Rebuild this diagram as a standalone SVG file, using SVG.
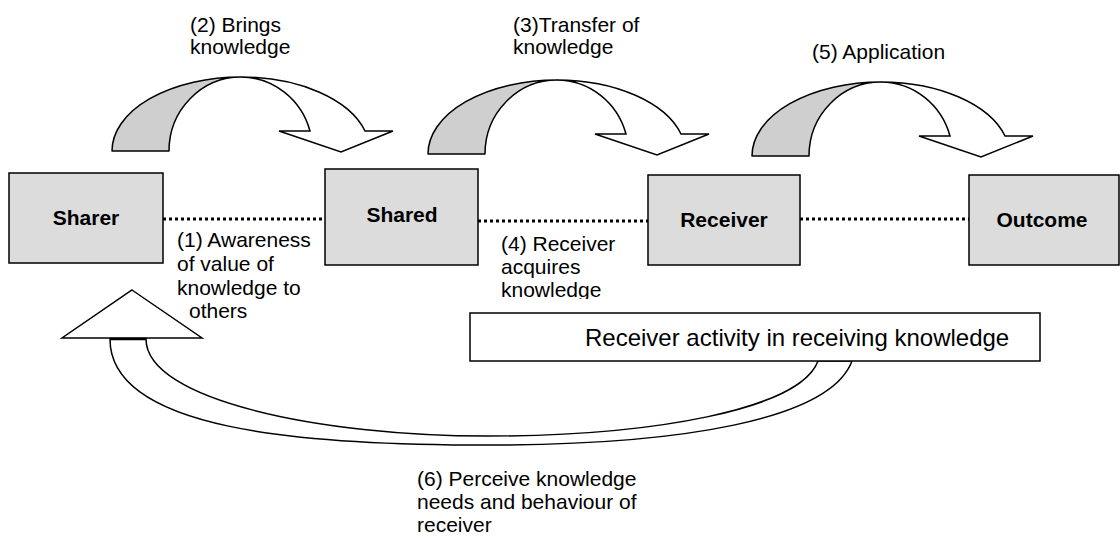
<svg xmlns="http://www.w3.org/2000/svg" xmlns:xlink="http://www.w3.org/1999/xlink" width="1120" height="539" viewBox="0 0 1120 539">
  <style>
    .box { fill: #dcdcdc; stroke: #000; stroke-width: 1.5; }
    .wbox { fill: #fff; stroke: #000; stroke-width: 1.5; }
    .bold { font-family: "Liberation Sans", Arial, sans-serif; font-size: 21px; font-weight: bold; fill: #000; }
    .lbl { font-family: "Liberation Sans", Arial, sans-serif; font-size: 21px; fill: #000; }
    .big { font-family: "Liberation Sans", Arial, sans-serif; font-size: 24px; fill: #000; }
    .dots { stroke: #000; stroke-width: 3; stroke-dasharray: 3 3; fill: none; }
    .shade { fill: #cfcfcf; stroke: #000; stroke-width: 1.5; stroke-linejoin: round; }
    .white { fill: #fff; stroke: #000; stroke-width: 1.5; stroke-linejoin: miter; }
  </style>
  <defs>
    <g id="curvedArrow">
      <path class="shade" d="M112,151 A129,74 0 0 1 241,77 A72,74 0 0 0 169,151 Z"/>
      <path class="white" d="M241,77 A129,74 0 0 1 365,131 L393,131 L341,152 L279,131 L310,131 A72,74 0 0 0 241,77 Z"/>
    </g>
    <clipPath id="clip4">
      <rect x="480" y="225" width="160" height="74"/>
    </clipPath>
  </defs>
  <rect width="1120" height="539" fill="#fff"/>

  <g id="connectors">
    <line class="dots" x1="163" y1="219" x2="325" y2="219"/>
    <line class="dots" x1="478" y1="221" x2="648" y2="221"/>
    <line class="dots" x1="800" y1="219" x2="969" y2="219"/>
    <use xlink:href="#curvedArrow" href="#curvedArrow"/>
    <use xlink:href="#curvedArrow" href="#curvedArrow" transform="translate(316,3)"/>
    <use xlink:href="#curvedArrow" href="#curvedArrow" transform="translate(640,5)"/>
    <g id="feedbackArrow">
      <path class="white" d="M110,339 C110,430 300,445 488,445 C680,445 830,420 852,361 L818,361 C800,410 650,436 488,436 C320,436 146,400 146,339 Z"/>
      <polygon class="white" points="132,290 202,338 62,338"/>
      <line x1="110" y1="339" x2="146" y2="339" stroke="#000" stroke-width="2.5"/>
    </g>
  </g>

  <g id="sharer">
    <rect class="box" x="9" y="173" width="154" height="90"/>
    <text class="bold" x="86" y="225" text-anchor="middle">Sharer</text>
  </g>
  <g id="shared">
    <rect class="box" x="325" y="169" width="153" height="96"/>
    <text class="bold" x="402" y="222" text-anchor="middle">Shared</text>
  </g>
  <g id="receiver">
    <rect class="box" x="648" y="175" width="152" height="90"/>
    <text class="bold" x="724" y="227" text-anchor="middle">Receiver</text>
  </g>
  <g id="outcome">
    <rect class="box" x="969" y="175" width="150" height="90"/>
    <text class="bold" x="1042" y="227" text-anchor="middle">Outcome</text>
  </g>
  <g id="activity">
    <rect class="wbox" x="470" y="313" width="570" height="48"/>
    <text class="big" x="585" y="346">Receiver activity in receiving knowledge</text>
  </g>

  <g id="labels">
    <text class="lbl" x="190" y="32">(2) Brings</text>
    <text class="lbl" x="190" y="54">knowledge</text>
    <text class="lbl" x="513" y="32">(3)Transfer of</text>
    <text class="lbl" x="513" y="54">knowledge</text>
    <text class="lbl" x="812" y="59">(5) Application</text>
    <text class="lbl" x="177" y="247">(1) Awareness</text>
    <text class="lbl" x="177" y="271">of value of</text>
    <text class="lbl" x="177" y="295">knowledge to</text>
    <text class="lbl" x="189" y="318">others</text>
    <g clip-path="url(#clip4)">
      <text class="lbl" x="501" y="251">(4) Receiver</text>
      <text class="lbl" x="501" y="274">acquires</text>
      <text class="lbl" x="501" y="297">knowledge</text>
    </g>
    <text class="lbl" x="417" y="486">(6) Perceive knowledge</text>
    <text class="lbl" x="417" y="509">needs and behaviour of</text>
    <text class="lbl" x="417" y="532">receiver</text>
  </g>
</svg>
